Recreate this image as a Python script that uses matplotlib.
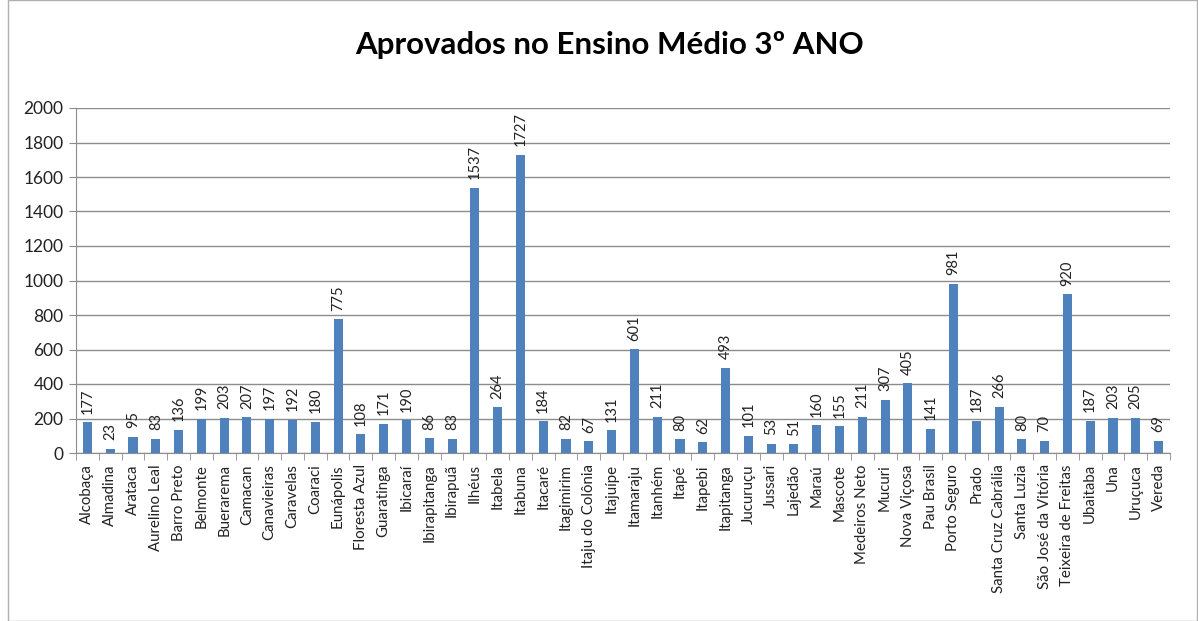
import matplotlib
matplotlib.use("Agg")
import matplotlib.pyplot as plt
from matplotlib.patches import Rectangle
import numpy as np

municipios = ["Alcobaça", "Almadina", "Arataca", "Aurelino Leal", "Barro Preto", "Belmonte",
              "Buerarema", "Camacan", "Canavieiras", "Caravelas", "Coaraci", "Eunápolis",
              "Floresta Azul", "Guaratinga", "Ibicaraí", "Ibirapitanga", "Ibirapuã", "Ilhéus",
              "Itabela", "Itabuna", "Itacaré", "Itagimirim", "Itaju do Colônia", "Itajuípe",
              "Itamaraju", "Itanhém", "Itapé", "Itapebi", "Itapitanga", "Jucuruçu", "Jussari",
              "Lajedão", "Maraú", "Mascote", "Medeiros Neto", "Mucuri", "Nova Viçosa",
              "Pau Brasil", "Porto Seguro", "Prado", "Santa Cruz Cabrália", "Santa Luzia",
              "São José da Vitória", "Teixeira de Freitas", "Ubaitaba", "Una", "Uruçuca", "Vereda"]
aprovados = [177, 23, 95, 83, 136, 199, 203, 207, 197, 192, 180, 775, 108, 171, 190, 86, 83,
             1537, 264, 1727, 184, 82, 67, 131, 601, 211, 80, 62, 493, 101, 53, 51, 160, 155,
             211, 307, 405, 141, 981, 187, 266, 80, 70, 920, 187, 203, 205, 69]
yticks = list(range(0, 2001, 200))
title = "Aprovados no Ensino Médio 3º ANO"

plt.rcParams['font.family'] = ['Lato', 'DejaVu Sans']

W, H = 1198, 621
fig = plt.figure(figsize=(W / 100, H / 100), dpi=100)
fig.patch.set_facecolor('white')
fig.patches.append(Rectangle((8 / W, 0.0), (W - 9) / W, 1.0, transform=fig.transFigure,
                             fill=False, edgecolor='#b0b0b0', linewidth=1))

ax = fig.add_axes([76 / W, 1 - 453 / H, (1170 - 76) / W, (453 - 108) / H])
x = np.arange(len(municipios))
ax.bar(x, aprovados, width=0.4, color='#4F81BD', zorder=3)
ax.set_xlim(-0.5, len(municipios) - 0.5)
ax.set_ylim(0, 2000)
ax.set_yticks(yticks)
ax.set_yticklabels([str(t) for t in yticks], fontsize=12.5, color='#222222')
ax.yaxis.grid(True, color='#8c8c8c', linewidth=1, zorder=0)
ax.set_axisbelow(True)

ax.set_xticks(x)
ax.set_xticklabels(municipios, rotation=90, fontsize=10.8, color='#222222')
ax.tick_params(axis='x', length=0, pad=8)
ax.set_xticks(np.arange(-0.5, len(municipios), 1), minor=True)
ax.tick_params(axis='x', which='minor', length=5, color='#8c8c8c')
ax.tick_params(axis='y', length=5, color='#8c8c8c', pad=4)

for s in ['top', 'right']:
    ax.spines[s].set_visible(False)
for s in ['left', 'bottom']:
    ax.spines[s].set_color('#8c8c8c')

for xi, v in zip(x, aprovados):
    ax.text(xi, v + 50, str(v), rotation=90, ha='center', va='bottom', fontsize=10.5,
            color='#222222')

fig.text(610 / W, 1 - 45 / H, title, ha='center', va='center', fontsize=22.5,
         fontweight='bold', color='#000000')

fig.savefig('out.png', dpi=100)
